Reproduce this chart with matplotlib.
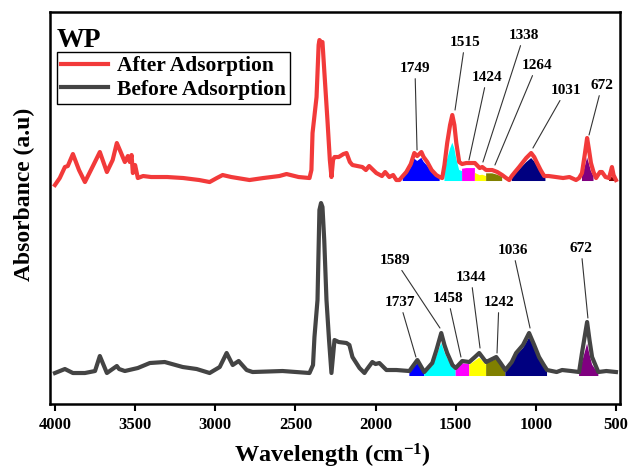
import numpy as np
import matplotlib
matplotlib.use("Agg")
import matplotlib.pyplot as plt

plt.rcParams['font.family'] = ['Liberation Serif', 'DejaVu Serif']
plt.rcParams['font.weight'] = 'bold'
plt.rcParams['mathtext.fontset'] = 'custom'
plt.rcParams['mathtext.rm'] = 'Liberation Serif:bold'
plt.rcParams['mathtext.default'] = 'rm'

# after adsorption (red, upper trace)
wn_after = [4000, 3970, 3938, 3920, 3888, 3850, 3813, 3760, 3720, 3676, 3640, 3614, 3590, 3564,
            3545, 3533, 3522, 3514, 3500, 3483, 3450, 3400, 3300, 3200, 3100, 3035, 2990, 2954,
            2900, 2786, 2700, 2600, 2555, 2480, 2412, 2400, 2393, 2368, 2355, 2350, 2340, 2331,
            2320, 2300, 2285, 2275, 2265, 2256, 2230, 2200, 2181, 2160, 2144, 2082, 2060, 2040,
            1995, 1960, 1940, 1914, 1890, 1870, 1851, 1830, 1808, 1780, 1758, 1740, 1714, 1700,
            1677, 1650, 1621, 1600, 1584, 1570, 1553, 1535, 1521, 1508, 1496, 1478, 1460, 1434,
            1400, 1380, 1350, 1334, 1310, 1272, 1240, 1210, 1185, 1166, 1150, 1130, 1104, 1060,
            1029, 1010, 992, 970, 948, 940, 920, 874, 830, 790, 749, 730, 712, 695, 680, 668,
            656, 640, 624, 600, 587, 565, 543, 525, 515, 500]
abs_after = [285, 292, 303, 304, 316, 300, 288, 305, 318, 298, 310, 327, 318, 308,
             314, 308, 315, 297, 305, 292, 294, 293, 293, 292, 290, 288, 292, 295,
             293, 290, 292, 294, 296, 293, 292, 300, 337, 373, 425, 430, 428, 428,
             400, 350, 310, 293, 310, 313, 313, 316, 317, 308, 305, 303, 300, 304,
             297, 294, 298, 293, 295, 290, 290, 294, 298, 306, 317, 314, 318, 313,
             308, 300, 295, 293, 292, 305, 327, 345, 355, 345, 327, 308, 306, 307,
             307, 307, 302, 303, 300, 300, 298, 295, 292, 290, 294, 298, 303, 312,
             317, 313, 307, 300, 294, 294, 294, 293, 292, 293, 290, 292, 297, 315, 332, 320,
             307, 298, 292, 298, 298, 293, 292, 303, 295, 290]

# before adsorption (grey, lower trace)
wn_before = [4000, 3938, 3888, 3813, 3750, 3720, 3676, 3614, 3600, 3564, 3483, 3408, 3315, 3203,
             3116, 3035, 2972, 2929, 2891, 2854, 2804, 2767, 2580, 2412, 2390, 2381, 2362, 2350,
             2340, 2331, 2320, 2306, 2290, 2275, 2256, 2230, 2181, 2163, 2144, 2100, 2069, 2057,
             2020, 2000, 1976, 1932, 1870, 1789, 1739, 1696, 1646, 1620, 1590, 1570, 1553, 1520,
             1500, 1459, 1415, 1380, 1353, 1320, 1310, 1247, 1220, 1190, 1150, 1123, 1080, 1042,
             1010, 980, 950, 930, 870, 836, 780, 730, 712, 680, 665, 649, 610, 560, 500]
abs_before = [97, 101, 97, 97, 99, 114, 97, 104, 101, 99, 102, 107, 108, 103,
              101, 97, 103, 117, 105, 109, 100, 98, 99, 97, 105, 133, 170, 260,
              267, 263, 230, 170, 130, 97, 130, 128, 127, 125, 113, 102, 97, 100,
              108, 106, 107, 100, 100, 99, 110, 98, 107, 120, 137, 125, 117, 105,
              102, 109, 108, 113, 117, 110, 108, 113, 107, 100, 108, 117, 125, 137,
              125, 113, 105, 100, 98, 100, 99, 98, 117, 148, 130, 113, 98, 99, 98]

# deconvoluted bands: (high wn, low wn), colour, relative height
bands_after = [(1830, 1600), (1570, 1460), (1460, 1380), (1380, 1310), (1310, 1210),
               (1150, 940), (712, 640), (543, 500)]
fracs_after = [0.8, 0.58, 0.72, 0.45, 0.7, 0.82, 0.55, 0.35]
bands_before = [(1789, 1696), (1696, 1500), (1500, 1415), (1415, 1310), (1310, 1190),
                (1190, 930), (730, 610)]
fracs_before = [0.8, 0.77, 0.85, 0.8, 0.9, 0.9, 0.6]
band_colors = ['#0000ff', '#00ffff', '#ff00ff', '#ffff00', '#808000', '#000080', '#800080', '#800000']

# peak labels: text, tip (wn, y), text position (wn, y)
labels_after = ['1749', '1515', '1424', '1338', '1264', '1031', '672']
tips_after = [(1741, 320), (1504, 360), (1417, 310), (1330, 308), (1255, 305), (1018, 322), (668, 335)]
texts_after = [(1754, 402), (1442, 428), (1305, 393), (1074, 435), (993, 405), (812, 380), (587, 385)]
labels_before = ['1589', '1737', '1458', '1344', '1242', '1036', '672']
tips_before = [(1598, 142), (1748, 113), (1467, 113), (1348, 122), (1242, 117), (1036, 142), (675, 152)]
texts_before = [(1879, 210), (1848, 168), (1548, 172), (1405, 193), (1230, 168), (1143, 220), (718, 222)]


def fill_bands(ax, wn, ab, bands, fracs, base):
    wn = np.array(wn)
    ab = np.array(ab, dtype=float)
    for (hi, lo), f, c in zip(bands, fracs, band_colors):
        m = (wn <= hi) & (wn >= lo)
        xs = np.concatenate([[hi], wn[m], [lo]])
        ys = np.concatenate([[base], base + f * (ab[m] - base), [base]])
        ax.fill(xs, ys, color=c, lw=0, zorder=1)


fig = plt.figure(figsize=(6.28, 4.70), dpi=100)
ax = fig.add_axes([0.0796, 0.1404, 0.9076, 0.834])

fill_bands(ax, wn_after, abs_after, bands_after, fracs_after, 289)
fill_bands(ax, wn_before, abs_before, bands_before, fracs_before, 94)

ax.plot(wn_after, abs_after, color='#f23a3a', lw=3, zorder=2, label='After Adsorption')
ax.plot(wn_before, abs_before, color='#444444', lw=3, zorder=2, label='Before Adsorption')

for lab, tip, txt in zip(labels_after + labels_before, tips_after + tips_before,
                         texts_after + texts_before):
    ax.annotate(lab, xy=tip, xytext=txt, ha='center', va='center', fontsize=11,
                fontweight='bold',
                arrowprops=dict(arrowstyle='-', color='#333333', lw=0.8, shrinkA=1, shrinkB=0))

ax.set_xlim(4031, 475)
ax.set_ylim(66, 458)
ax.set_xticks([4000, 3500, 3000, 2500, 2000, 1500, 1000, 500])
ax.set_yticks([])
ax.tick_params(axis='x', direction='out', length=5, width=1.5, labelsize=12, pad=4)
for s in ax.spines.values():
    s.set_linewidth(1.8)

ax.set_xlabel('Wavelength (cm$^{-1}$)', fontsize=17.5, fontweight='bold')
ax.xaxis.set_label_coords(0.496, -0.096)
ax.set_ylabel('Absorbance (a.u)', fontsize=17, fontweight='bold')
ax.yaxis.set_label_coords(-0.027, 0.536)

ax.text(0.012, 0.96, 'WP', transform=ax.transAxes, fontsize=20, fontweight='bold',
        ha='left', va='top')
leg = ax.legend(loc='upper left', bbox_to_anchor=(0.012, 0.898), borderaxespad=0,
                fancybox=False, framealpha=1, edgecolor='black', fontsize=15.5,
                handlelength=2.2, handletextpad=0.4, borderpad=0.2, labelspacing=0.15)
leg.get_frame().set_linewidth(1.0)

fig.savefig('out.png', dpi=100)
